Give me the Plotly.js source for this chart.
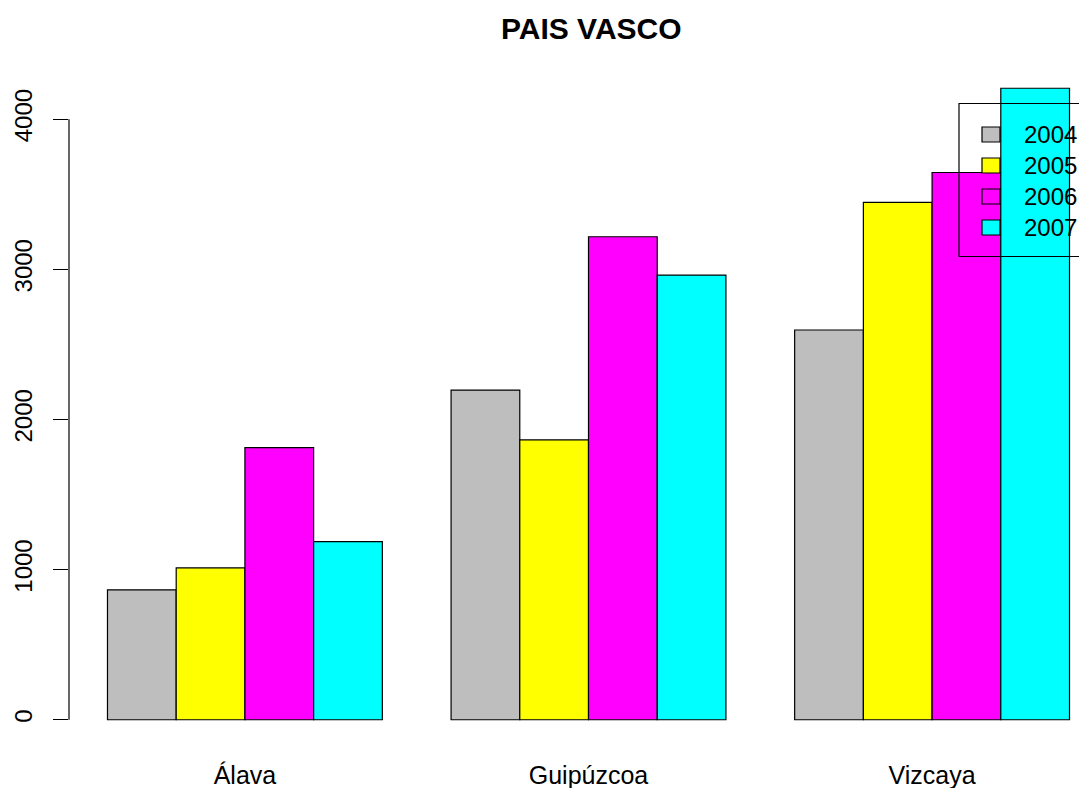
<!DOCTYPE html>
<html>
<head>
<meta charset="utf-8">
<script src="https://cdn.plot.ly/plotly-3.0.1.min.js"></script>
<style>html,body{margin:0;padding:0;background:#fff;}#chart{width:1079px;height:788px;}</style>
</head>
<body>
<div id="chart"></div>
<script>
const provinces = ["Álava", "Guipúzcoa", "Vizcaya"];
const years = ["2004", "2005", "2006", "2007"];
const v2004 = [865, 2196, 2596];
const v2005 = [1011, 1864, 3446];
const v2006 = [1812, 3217, 3645];
const v2007 = [1187, 2962, 4206];
const yTicks = [0, 1000, 2000, 3000, 4000];
const colors = ["#BEBEBE", "#FFFF00", "#FF00FF", "#00FFFF"];

const series = [v2004, v2005, v2006, v2007];
const FONT = "Liberation Sans, Arial, sans-serif";

const traces = series.map((vals, i) => ({
  type: "bar",
  x: provinces,
  y: vals,
  name: years[i],
  marker: {color: colors[i], line: {color: "#000", width: 1.2}},
  showlegend: false,
  hoverinfo: "x+y+name"
}));

// plot area geometry (pixels)
const W = 1079, H = 788, L = 69, T = 63, B = 43, R = 0;
const pw = W - L - R, ph = H - T - B;
const px = p => (p - L) / pw;
const py = q => (H - B - q) / ph;

const maxV = Math.max(...series.flat());
const yr = [-0.04 * maxV, maxV * 1.04];

const shapes = [];
const annotations = [];
// y axis line from 0 to 4000
shapes.push({type: "line", xref: "paper", yref: "y", x0: 0, x1: 0,
  y0: yTicks[0], y1: yTicks[yTicks.length - 1], line: {color: "#000", width: 1.2}});
// legend box
shapes.push({type: "rect", xref: "paper", yref: "paper", x0: px(959), x1: px(1140),
  y0: py(256.5), y1: py(103.5), line: {color: "#000", width: 1.2}, fillcolor: "rgba(0,0,0,0)", layer: "above"});
years.forEach((yname, i) => {
  const cy = 134.5 + i * 31;
  shapes.push({type: "rect", xref: "paper", yref: "paper", x0: px(982), x1: px(1000),
    y0: py(cy + 7.5), y1: py(cy - 7.5), line: {color: "#000", width: 1.2}, fillcolor: colors[i], layer: "above"});
  annotations.push({xref: "paper", yref: "paper", x: px(1022), y: py(cy), xanchor: "left", yanchor: "middle",
    text: yname, showarrow: false, font: {family: FONT, size: 24, color: "#000"}});
});

const layout = {
  width: W, height: H,
  margin: {l: L, r: R, t: T, b: B, pad: 0},
  paper_bgcolor: "#fff", plot_bgcolor: "#fff",
  barmode: "group", bargap: 0.2, bargroupgap: 0,
  title: {text: "<b>PAIS VASCO</b>", x: 0.548, xref: "container", xanchor: "center",
    y: 1 - 28.5 / H, yref: "container", yanchor: "middle",
    font: {family: FONT, size: 30, color: "#000"}},
  xaxis: {type: "category", range: [-0.512, 2.4276], showline: false, showgrid: false, zeroline: false,
    ticks: "outside", ticklen: 8, tickcolor: "rgba(0,0,0,0)",
    tickfont: {family: FONT, size: 25, color: "#000"}, fixedrange: true},
  yaxis: {range: yr, tickvals: yTicks, ticktext: yTicks.map(String), tickangle: -90,
    showline: false, showgrid: false, zeroline: false,
    ticks: "outside", ticklen: 15, tickwidth: 1.2, tickcolor: "#000", ticklabelstandoff: 11,
    tickfont: {family: FONT, size: 24, color: "#000"}, fixedrange: true},
  shapes: shapes,
  annotations: annotations,
  showlegend: false
};

Plotly.newPlot("chart", traces, layout, {displayModeBar: false, staticPlot: true});
</script>
</body>
</html>
